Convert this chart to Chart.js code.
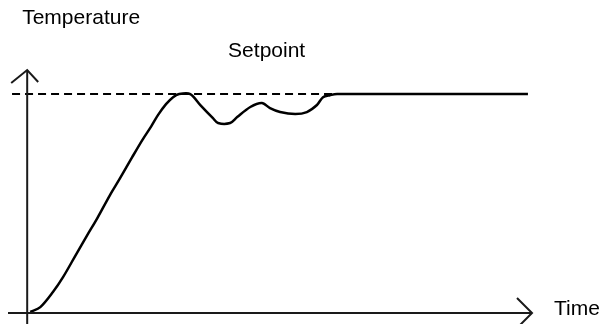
<!DOCTYPE html>
<html>
<head>
<meta charset="utf-8">
<script src="https://cdn.jsdelivr.net/npm/chart.js@4/dist/chart.umd.min.js"></script>
<style>
  html, body { margin: 0; padding: 0; background: #fff; }
  #wrap { width: 604px; height: 324px; position: relative; }
</style>
</head>
<body>
<div id="wrap"><canvas id="c" width="604" height="324"></canvas></div>
<script>
// Time (0..100) and temperature (setpoint = 100)
const timeValues = [0.6, 2.6, 5.1, 7.1, 9.5, 11.9, 13.9, 16.4, 18.4, 20.8, 22.8, 24.6, 25.9, 27.5, 28.9, 30.1, 32.3, 34.3, 36.8, 37.8, 40.2, 41.6, 44.2, 46.5, 48.1, 50.1, 53.1, 55.4, 57.4, 58.6, 60.0, 61.4, 99.2];
const temperatureValues = [0.5, 2.7, 9.6, 16.4, 26.0, 35.6, 43.4, 53.9, 61.6, 71.2, 79.0, 85.4, 90.4, 95.4, 98.6, 100, 100, 95.0, 89.0, 86.8, 86.8, 89.5, 94.1, 95.9, 93.6, 91.8, 90.9, 91.8, 95.0, 98.6, 99.5, 100, 100];
const setpointValue = 100;
const setpointTimes = [-3.0, 61.4];
const axisLabels = { y: "Temperature", x: "Time", setpoint: "Setpoint" };

const responseData = timeValues.map((t, i) => ({ x: t, y: temperatureValues[i] }));
const setpointData = setpointTimes.map(t => ({ x: t, y: setpointValue }));

const axesPlugin = {
  id: 'arrowAxes',
  afterDatasetsDraw(chart) {
    const ctx = chart.ctx;
    const xs = chart.scales.x, ys = chart.scales.y;
    const x0 = xs.getPixelForValue(0);
    const y0 = ys.getPixelForValue(0);
    const xEnd = xs.getPixelForValue(xs.max);
    const yTop = ys.getPixelForValue(ys.max);
    const yBottom = ys.getPixelForValue(ys.min);
    const xStart = xs.getPixelForValue(-3.8);
    ctx.save();
    ctx.strokeStyle = '#1a1a1a';
    ctx.lineWidth = 2;
    ctx.lineCap = 'butt';
    // y axis
    ctx.beginPath();
    ctx.moveTo(x0, yBottom);
    ctx.lineTo(x0, yTop);
    ctx.stroke();
    // y arrow head
    ctx.beginPath();
    ctx.moveTo(x0 - 16, yTop + 13);
    ctx.lineTo(x0, yTop);
    ctx.lineTo(x0 + 11, yTop + 12);
    ctx.stroke();
    // x axis
    ctx.beginPath();
    ctx.moveTo(xStart, y0);
    ctx.lineTo(xEnd, y0);
    ctx.stroke();
    // x arrow head
    ctx.beginPath();
    ctx.moveTo(xEnd - 15, y0 - 15);
    ctx.lineTo(xEnd, y0);
    ctx.lineTo(xEnd - 15, y0 + 15);
    ctx.stroke();
    // labels
    ctx.fillStyle = '#000';
    ctx.font = '21px "Liberation Sans", Arial, sans-serif';
    ctx.textBaseline = 'alphabetic';
    ctx.textAlign = 'left';
    ctx.fillText(axisLabels.y, x0 - 5, yTop - 46);
    ctx.fillText(axisLabels.setpoint, xs.getPixelForValue(39.8), ys.getPixelForValue(setpointValue) - 37);
    ctx.fillText(axisLabels.x, xEnd + 22, y0 + 2);
    ctx.restore();
  }
};

new Chart(document.getElementById('c'), {
  type: 'line',
  data: {
    datasets: [
      {
        label: 'Response',
        data: responseData,
        borderColor: '#000',
        borderWidth: 2.5,
        pointRadius: 0,
        tension: 0.3,
        fill: false
      },
      {
        label: 'Setpoint',
        data: setpointData,
        borderColor: '#000',
        borderWidth: 2,
        borderDash: [8, 5],
        pointRadius: 0,
        tension: 0,
        fill: false
      }
    ]
  },
  options: {
    responsive: false,
    animation: false,
    devicePixelRatio: 1,
    layout: { padding: { left: 7, right: 72, top: 70, bottom: 0 } },
    plugins: { legend: { display: false }, tooltip: { enabled: false }, title: { display: false } },
    scales: {
      x: { type: 'linear', min: -4, max: 100, display: false },
      y: { type: 'linear', min: -5, max: 111, display: false }
    }
  },
  plugins: [axesPlugin]
});
</script>
</body>
</html>
